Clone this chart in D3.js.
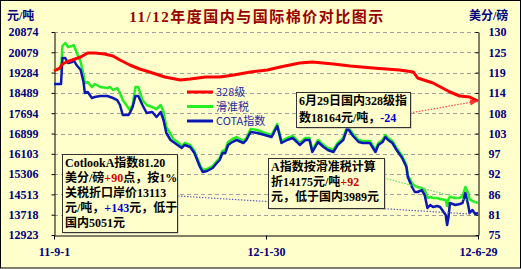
<!DOCTYPE html>
<html>
<head>
<meta charset="utf-8">
<script src="https://cdn.jsdelivr.net/npm/d3@7"></script>
<style>
body { margin: 0; background: #fff; }
svg { display: block; }
</style>
</head>
<body>
<script>
// 11/12年度国内与国际棉价对比图示

var w = 521, h = 269;
var plotLeft = 54, plotRight = 478, plotTop = 32, plotBottom = 235;

// data
var redDates = ["2011-09-01","2011-09-05","2011-09-07","2011-09-10","2011-09-14","2011-09-20","2011-09-25","2011-09-30",
  "2011-10-07","2011-10-13","2011-10-18","2011-10-25","2011-11-01","2011-11-08","2011-11-19","2011-11-30",
  "2011-12-07","2011-12-18","2011-12-28","2012-01-07","2012-01-19","2012-01-31","2012-02-09","2012-02-23",
  "2012-03-03","2012-03-18","2012-03-30","2012-04-15","2012-05-04","2012-05-14","2012-05-17","2012-05-28",
  "2012-06-09","2012-06-16","2012-06-23","2012-06-29"];
var redValues = [19346,19464,19621,19699,19777,19895,20051,20051,
  20012,19934,19777,19581,19425,19307,19111,18994,
  19033,19111,19111,19190,19307,19386,19503,19660,
  19699,19621,19542,19464,19386,19307,19072,18876,
  18524,18367,18328,18164];

var cotaDates = ["2011-09-01","2011-09-06","2011-09-07","2011-09-09","2011-09-11","2011-09-14","2011-09-15","2011-09-17",
  "2011-09-20","2011-09-22","2011-09-23","2011-09-25","2011-09-28","2011-09-30",
  "2011-10-04","2011-10-09","2011-10-11","2011-10-13","2011-10-16","2011-10-18","2011-10-20","2011-10-24",
  "2011-10-25","2011-10-27","2011-10-29","2011-10-31",
  "2011-11-03","2011-11-06","2011-11-10","2011-11-13","2011-11-16","2011-11-18","2011-11-20","2011-11-23",
  "2011-11-25","2011-11-28",
  "2011-12-01","2011-12-03","2011-12-07","2011-12-10","2011-12-14","2011-12-16","2011-12-19","2011-12-23",
  "2011-12-26","2011-12-28","2011-12-30",
  "2012-01-01","2012-01-03","2012-01-06","2012-01-09","2012-01-14","2012-01-16","2012-01-19","2012-01-24","2012-01-29",
  "2012-02-03","2012-02-07","2012-02-09","2012-02-10","2012-02-14","2012-02-18","2012-02-21","2012-02-23","2012-02-27",
  "2012-03-01","2012-03-03","2012-03-07","2012-03-11","2012-03-14","2012-03-18","2012-03-21","2012-03-25","2012-03-28",
  "2012-04-01","2012-04-05","2012-04-08","2012-04-13","2012-04-17","2012-04-19","2012-04-22","2012-04-24","2012-04-26",
  "2012-04-29",
  "2012-05-02","2012-05-06","2012-05-09","2012-05-10","2012-05-13","2012-05-15","2012-05-17","2012-05-20","2012-05-22",
  "2012-05-24","2012-05-26","2012-05-28","2012-05-31",
  "2012-06-02","2012-06-06","2012-06-07","2012-06-08","2012-06-09","2012-06-13","2012-06-16","2012-06-18","2012-06-20",
  "2012-06-22","2012-06-23","2012-06-25","2012-06-27","2012-06-29"];

var cotaValues = [18837,18837,19856,19856,19660,19699,19777,19581,19386,18916,18485,18524,18289,18328,
  18367,18367,18328,18289,18210,18015,17623,17623,17701,17936,18367,18367,
  18015,17701,17740,17545,17740,17427,16918,16644,16565,16448,
  16330,16448,16369,16134,15586,15390,15429,15547,15743,15860,16134,
  16134,16448,16565,16644,16526,16644,16957,16918,16840,
  16761,17192,16761,16526,16644,16722,16565,16448,16644,
  16644,16174,16565,16369,16252,16174,16448,16644,17114,
  16800,16565,16526,16526,16174,16448,16565,16761,16644,16526,
  16252,15939,15586,15194,14803,14607,14607,14685,14489,13980,14098,14019,14059,
  14019,13706,13314,13628,14176,14098,14137,14176,14568,14098,13784,13902,13745,13784];

var slideValues = [19386,19425,20326,20443,20286,20326,20365,20091,19699,19190,18876,18916,18720,18837,
  18720,18680,18720,18602,18680,18485,18210,17897,17819,18015,18720,18720,
  18210,18015,17936,17858,18015,17740,17153,16879,16683,16565,
  16409,16526,16448,16213,15665,15469,15508,15625,15821,15939,16213,
  16252,16565,16683,16761,16604,16722,17075,17035,16918,
  16840,17270,16840,16604,16722,16800,16644,16526,16722,
  16722,16252,16644,16448,16330,16252,16526,16722,17192,
  16879,16644,16604,16604,16252,16526,16644,16840,16722,16604,
  16330,16017,15665,15273,14959,14842,14803,14764,14685,14372,14411,14372,14372,
  14333,14294,14059,14333,14411,14372,14372,14450,14803,14568,14333,14254,14215,14175];

var seriesNames = ["328级", "滑准税", "COTA指数"];
var seriesColors = ["#ff0000", "#22ee22", "#0a18b4"];

var leftTickLabels = ["12923","13718","14513","15306","16103","16899","17694","18489","19284","20079","20874"];
var rightTickLabels = ["75","81","86","92","97","103","108","114","119","125","130"];
var xTickDates = ["2011-09-01", "2012-01-30", "2012-06-29"];
var xTickLabels = ["11-9-1", "12-1-30", "12-6-29"];

var parse = d3.timeParse("%Y-%m-%d");
var numFont = "'Liberation Serif','Times New Roman','Noto Sans CJK SC',serif";
var cjkFont = "'Liberation Serif','Noto Sans CJK SC',serif";

var svg = d3.select("body").append("svg")
  .attr("width", w)
  .attr("height", h);

svg.append("rect")
  .attr("x", 0.5).attr("y", 0.5)
  .attr("width", w - 1).attr("height", h - 1.5)
  .attr("fill", "#ffffcc")
  .attr("stroke", "#000");

var x = d3.scaleTime()
  .domain([parse("2011-09-01"), parse("2012-06-29")])
  .range([plotLeft, plotRight]);
var yL = d3.scaleLinear().domain([12923, 20874]).range([plotBottom, plotTop]);
var yR = d3.scaleLinear().domain([75, 130]).range([plotBottom, plotTop]);

var leftTicks = d3.range(11).map(function (i) { return 12923 + i * (20874 - 12923) / 10; });
var rightTicks = d3.range(11).map(function (i) { return 75 + i * 5.5; });

// grid
svg.append("g").selectAll("line")
  .data(leftTicks.slice(1))
  .enter().append("line")
  .attr("x1", plotLeft).attr("x2", plotRight)
  .attr("y1", function (d) { return Math.round(yL(d)) + 0.5; })
  .attr("y2", function (d) { return Math.round(yL(d)) + 0.5; })
  .attr("stroke", "#a0a0a0")
  .attr("stroke-dasharray", "4,3");

// axes
var gL = svg.append("g").attr("transform", "translate(" + (plotLeft + 0.5) + ",0)")
  .call(d3.axisLeft(yL).tickValues(leftTicks)
    .tickFormat(function (d, i) { return leftTickLabels[i]; })
    .tickSizeInner(3).tickSizeOuter(0).tickPadding(13));
var gR = svg.append("g").attr("transform", "translate(" + (plotRight + 0.5) + ",0)")
  .call(d3.axisRight(yR).tickValues(rightTicks)
    .tickFormat(function (d, i) { return rightTickLabels[i]; })
    .tickSizeInner(-3).tickSizeOuter(0).tickPadding(10));
var gB = svg.append("g").attr("transform", "translate(0," + (plotBottom + 0.5) + ")")
  .call(d3.axisBottom(x).tickValues(xTickDates.map(parse))
    .tickFormat(function (d, i) { return xTickLabels[i]; })
    .tickSizeInner(4).tickSizeOuter(0).tickPadding(8));

[gL, gR, gB].forEach(function (g) {
  g.select(".domain").attr("stroke", "#000");
  g.selectAll(".tick line").attr("stroke", "#000");
  g.selectAll("text")
    .attr("fill", "#000080")
    .attr("font-family", numFont)
    .attr("font-weight", "bold")
    .attr("font-size", 12);
});

// lines
var series = [
  { name: seriesNames[0], color: seriesColors[0], width: 3, pts: redDates.map(function (d, i) { return { date: parse(d), v: redValues[i] }; }) },
  { name: seriesNames[1], color: seriesColors[1], width: 2.5, pts: cotaDates.map(function (d, i) { return { date: parse(d), v: slideValues[i] }; }) },
  { name: seriesNames[2], color: seriesColors[2], width: 2.5, pts: cotaDates.map(function (d, i) { return { date: parse(d), v: cotaValues[i] }; }) }
];

var line = d3.line()
  .x(function (d) { return x(d.date); })
  .y(function (d) { return yL(d.v); });

[series[1], series[2], series[0]].forEach(function (s) {
  svg.append("path")
    .datum(s.pts)
    .attr("d", line)
    .attr("fill", "none")
    .attr("stroke", s.color)
    .attr("stroke-width", s.width)
    .attr("stroke-linejoin", "round");
});

// legend
var lg = svg.append("g");
series.forEach(function (s, i) {
  var ly = 92 + i * 14.5;
  lg.append("line").attr("x1", 187).attr("x2", 213).attr("y1", ly).attr("y2", ly)
    .attr("stroke", s.color).attr("stroke-width", 3);
  lg.append("text").attr("x", 216).attr("y", ly + 4)
    .attr("font-family", "'Noto Sans CJK SC','DejaVu Sans',sans-serif")
    .attr("font-size", 11)
    .attr("fill", "#2828a0")
    .text(s.name);
});

// title and units
svg.append("text")
  .attr("x", 257).attr("y", 22)
  .attr("text-anchor", "middle")
  .attr("font-family", cjkFont)
  .attr("font-weight", "bold")
  .attr("font-size", 15)
  .attr("letter-spacing", 1.5)
  .attr("fill", "#990000")
  .text("11/12年度国内与国际棉价对比图示");
svg.append("text").attr("x", 7).attr("y", 20)
  .attr("font-family", cjkFont).attr("font-weight", "bold").attr("font-size", 12)
  .attr("fill", "#000080").text("元/吨");
svg.append("text").attr("x", 469).attr("y", 20)
  .attr("font-family", cjkFont).attr("font-weight", "bold").attr("font-size", 12)
  .attr("fill", "#000080").text("美分/磅");

// annotation pointers
var defs = svg.append("defs");
defs.append("marker")
  .attr("id", "arrRed")
  .attr("viewBox", "0 0 10 10")
  .attr("refX", 9).attr("refY", 5)
  .attr("markerWidth", 6).attr("markerHeight", 6)
  .attr("orient", "auto")
  .append("path").attr("d", "M0,1L10,5L0,9Z").attr("fill", "#ff3030");

function lastPoint(s) {
  var p = s.pts[s.pts.length - 1];
  return [x(p.date), yL(p.v)];
}

var pr = lastPoint(series[0]), pg = lastPoint(series[1]), pb = lastPoint(series[2]);
svg.append("line").attr("x1", 410).attr("y1", 113).attr("x2", pr[0] - 1).attr("y2", pr[1])
  .attr("stroke", "#ff5050").attr("stroke-width", 1.3).attr("stroke-dasharray", "1.5,1.5")
  .attr("marker-end", "url(#arrRed)");
svg.append("line").attr("x1", 384).attr("y1", 178).attr("x2", pg[0]).attr("y2", pg[1])
  .attr("stroke", "#66e066").attr("stroke-width", 1.2).attr("stroke-dasharray", "1.5,1.5");
svg.append("line").attr("x1", 178).attr("y1", 196).attr("x2", pb[0] - 8).attr("y2", pb[1] + 1)
  .attr("stroke", "#6060c0").attr("stroke-width", 1.2).attr("stroke-dasharray", "1.5,1.5");

// annotation boxes
var boxes = [
  { x: 296, y: 92, w: 114, h: 35, lines: [
      [["6月29日国内328级指", "#000"]],
      [["数18164元/吨，", "#000"], ["-24", "#0000cc"]]
    ] },
  { x: 62, y: 154, w: 115, h: 78, lines: [
      [["CotlookA指数81.20", "#000"]],
      [["美分/磅", "#000"], ["+90", "#cc0000"], ["点，按1%", "#000"]],
      [["关税折口岸价13113", "#000"]],
      [["元/吨，", "#000"], ["+143", "#0000cc"], ["元，低于", "#000"]],
      [["国内5051元", "#000"]]
    ] },
  { x: 268, y: 158, w: 116, h: 50, lines: [
      [["A指数按滑准税计算", "#000"]],
      [["折14175元/吨", "#000"], ["+92", "#cc0000"]],
      [["元，低于国内3989元", "#000"]]
    ] }
];

boxes.forEach(function (b) {
  var g = svg.append("g");
  g.append("rect")
    .attr("x", b.x + 1.5).attr("y", b.y + 1.5)
    .attr("width", b.w).attr("height", b.h)
    .attr("fill", "#b0b0a0");
  g.append("rect")
    .attr("x", b.x + 0.5).attr("y", b.y + 0.5)
    .attr("width", b.w).attr("height", b.h)
    .attr("fill", "#ffffcc")
    .attr("stroke", "#333");
  var lh = b.lines.length === 2 ? 16.5 : 15;
  b.lines.forEach(function (ln, i) {
    var t = g.append("text")
      .attr("x", b.x + 3)
      .attr("y", b.y + 13 + i * lh)
      .attr("font-family", cjkFont)
      .attr("font-weight", "bold")
      .attr("font-size", 12);
    ln.forEach(function (part) {
      t.append("tspan").attr("fill", part[1]).text(part[0]);
    });
  });
});
</script>
</body>
</html>
